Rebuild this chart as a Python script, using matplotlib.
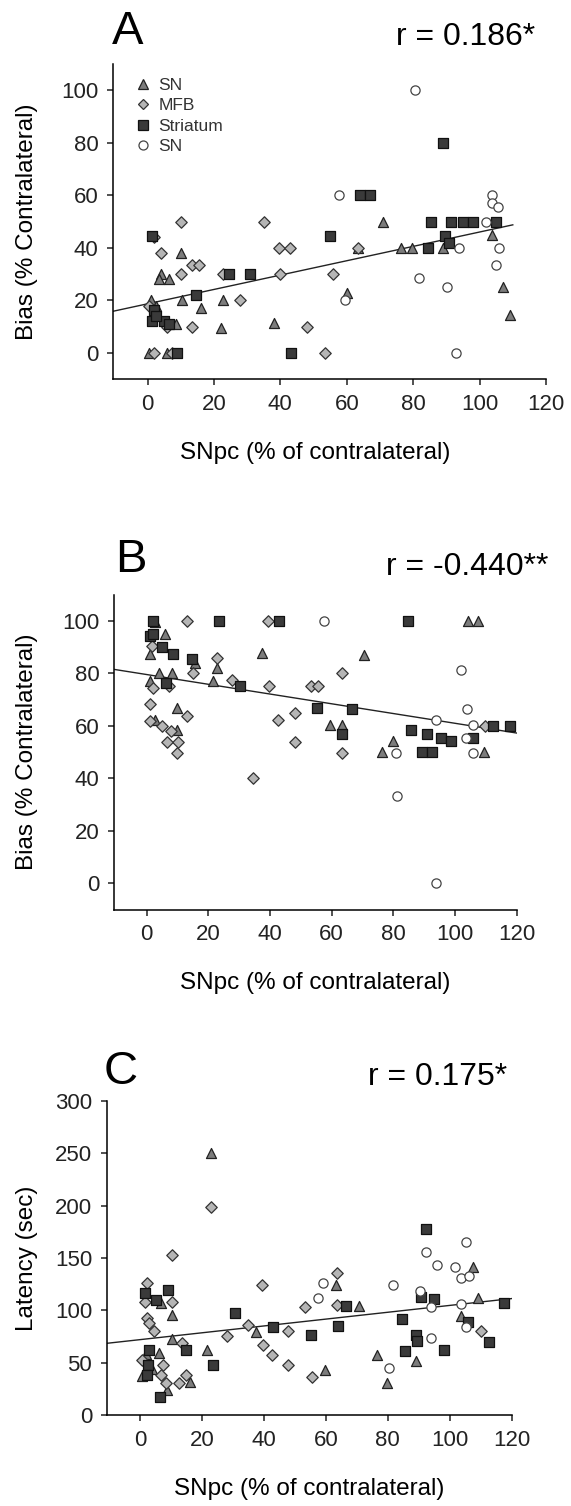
"""Three-panel scatter: turning bias / latency vs SNpc survival."""
import matplotlib
matplotlib.use("Agg")
import matplotlib.pyplot as plt
import numpy as np
from matplotlib.lines import Line2D

plt.rcParams["font.family"] = ["Liberation Sans", "DejaVu Sans"]

W, H = 571, 1506

# ---- panel A : Bias vs SNpc -------------------------------------------
a_sn_tri = [(0.5, 0), (6, 0), (1, 20), (2.5, 18), (4, 30), (3.5, 28), (6.5, 28),
            (10, 38), (10.5, 20), (16, 17), (22.7, 20), (22, 9.5), (38, 11.4),
            (8.5, 11), (70.8, 50), (60, 22.8), (63.5, 40), (76.3, 40), (79.7, 40),
            (89, 40), (103.6, 45), (107, 25), (109.3, 14.6)]
a_mfb = [(2, 0), (7.5, 0), (10, 50), (4, 38), (10, 30), (13.5, 33.5), (15.5, 33.5),
         (13.5, 10), (22.7, 30), (28, 20), (35, 50), (39.5, 40), (43, 40), (40, 30),
         (48, 10), (53.5, 0), (56, 30), (63.5, 40), (2, 44), (0.5, 18), (6, 10)]
a_str = [(1.5, 44.3), (2, 16.5), (1.5, 12), (5, 12), (6.5, 11), (9, 0), (24.5, 30),
         (31, 30), (14.7, 22), (43.3, 0), (55, 44.3), (64, 60), (67, 60), (88.9, 80),
         (85.4, 50), (91.5, 50), (95, 50), (98, 50), (105, 50), (89.6, 44.3),
         (90.8, 42), (84.6, 40), (2.5, 14)]
a_sn_open = [(80.7, 100), (57.7, 60), (81.7, 28.5), (59.5, 20), (90.3, 25),
             (93.8, 40), (92.8, 0), (102, 50), (103.6, 60), (103.8, 57),
             (105.5, 55.7), (105.8, 40), (105, 33.5)]
a_fit = (18.7, 0.273, 110)          # intercept, slope, x end

# ---- panel B : Bias vs SNpc -------------------------------------------
b_sn_tri = [(2.7, 99.6), (5.9, 95), (1.1, 87.3), (4.1, 80.3), (8.1, 80.3), (1.1, 77),
            (15.7, 84), (22.7, 82), (21.6, 77.3), (37.3, 87.9), (9.8, 66.9),
            (2.7, 62.4), (9.8, 58.6), (59.3, 60.3), (63.2, 60.3), (70.6, 87),
            (80, 54.1), (76.2, 50), (104.3, 100), (107.5, 100), (109.4, 50)]
b_mfb = [(13, 100), (39.2, 100), (1.6, 90.4), (22.7, 86), (15.1, 80), (27.6, 77.7),
         (2.2, 74.5), (7.4, 75.2), (39.8, 75.2), (53.2, 75.2), (55.7, 75.2),
         (1.1, 68.2), (13, 63.7), (1.1, 61.8), (4.9, 59.9), (8, 58), (10.3, 54),
         (6.5, 54), (9.8, 49.7), (34.6, 40), (42.7, 62.4), (48.1, 64.9),
         (48.1, 53.8), (63.2, 80), (63.3, 49.7), (109.7, 59.9)]
b_str = [(2.2, 100), (1.1, 94.3), (2.2, 95), (4.9, 90), (8.7, 87.6), (14.6, 85.4),
         (6.3, 76.4), (30.3, 75.2), (23.6, 100), (42.9, 100), (55.1, 66.9),
         (63.5, 57), (66.5, 66.6), (84.8, 100), (85.7, 58.6), (90.8, 57),
         (95.3, 55.4), (98.6, 54.4), (89.2, 50), (92.4, 50), (105.7, 55.4),
         (112.4, 60), (117.8, 60)]
b_sn_open = [(57.5, 100), (101.9, 81.3), (104, 66.6), (93.8, 62.4), (105.9, 60.3),
             (103.5, 55.4), (80.8, 49.7), (105.7, 49.7), (81.3, 33.1), (93.8, 0)]
b_fit = (79.6, -0.186, 120)

# ---- panel C : Latency vs SNpc ----------------------------------------
c_sn_tri = [(22.9, 250), (10.2, 96), (6.8, 107), (10.2, 73), (6.1, 59), (21.5, 62),
            (37.3, 79), (59.6, 43), (0.5, 37), (16.1, 32), (8.8, 24), (63.3, 124.3),
            (70.8, 104.2), (76.4, 57.4), (79.8, 30.3), (89.1, 51.6), (107.4, 141),
            (109.2, 111.5), (103.6, 94.6), (2, 58), (4, 44)]
c_mfb = [(22.9, 199), (10.2, 153), (2.4, 126), (1.6, 108.3), (10.2, 108.3),
         (39.3, 124.3), (2.2, 92.4), (4.5, 80.3), (35, 86), (28, 75.5), (47.9, 80.3),
         (39.6, 67), (42.7, 57.4), (47.9, 47.8), (53.4, 103.6), (55.5, 36.6),
         (13.5, 68.5), (0.5, 52.6), (7.3, 47.8), (6.8, 38.2), (8.4, 30.3),
         (12.7, 30.3), (14.8, 38.2), (63.5, 136), (63.6, 105.2), (110.1, 80.3),
         (3, 88)]
c_str = [(1.6, 116.3), (5.2, 110), (9, 119.5), (30.7, 97.8), (43, 84.4), (55.2, 76.5),
         (14.8, 62.1), (3, 62.1), (2.7, 47.8), (2.2, 38.2), (23.7, 47.8), (6.5, 17.5),
         (63.8, 85.1), (66.5, 104.2), (92.2, 177.8), (84.7, 91.5), (90.7, 113.1),
         (95, 110.6), (89, 76.5), (89.5, 71), (85.5, 61.2), (98.1, 62.1),
         (105.8, 89.2), (112.8, 70.1), (117.6, 106.8)]
c_sn_open = [(59.2, 126), (57.5, 111.5), (81.6, 124), (92.3, 156), (95.8, 143.4),
             (105.1, 165), (101.7, 141.8), (103.6, 130.7), (106.3, 132.9),
             (93.9, 103.5), (103.6, 106), (105.1, 84.4), (93.8, 73.3), (80.5, 44.6),
             (90.4, 118)]
c_fit = (72.0, 0.327, 120)

legend_labels = ["SN", "MFB", "Striatum", "SN"]
x_ticks = [0, 20, 40, 60, 80, 100, 120]
bias_ticks = [0, 20, 40, 60, 80, 100]
latency_ticks = [0, 50, 100, 150, 200, 250, 300]

STYLES = [
    dict(marker="^", s=52, facecolor="#7c7c7c", edgecolor="#222222"),
    dict(marker="D", s=34, facecolor="#b5b5b5", edgecolor="#333333"),
    dict(marker="s", s=42, facecolor="#3a3a3a", edgecolor="#111111"),
    dict(marker="o", s=44, facecolor="white", edgecolor="#444444"),
]

# axes boxes in pixels: left, right, top, bottom
BOX_A = (113.3, 546, 63.7, 379.3)
BOX_B = (114.2, 516.8, 594.8, 909.5)
BOX_C = (106.6, 511.7, 1101, 1415)


def px_rect(box):
    left, right, top, bottom = box
    return [left / W, 1 - bottom / H, (right - left) / W, (bottom - top) / H]


def panel(fig, box, groups, fit, xlim, ylim, yticks, ylabel, xlab_x=0.5):
    ax = fig.add_axes(px_rect(box))
    for pts, st in zip(groups, STYLES):
        xy = np.array(pts)
        ax.scatter(xy[:, 0], xy[:, 1], linewidths=0.9, zorder=3, clip_on=False, **st)
    b0, b1, xend = fit
    xs = np.array([xlim[0], xend])
    ax.plot(xs, b0 + b1 * xs, color="#222222", lw=1.0, zorder=2)
    ax.set_xlim(*xlim)
    ax.set_ylim(*ylim)
    ax.set_xticks(x_ticks)
    ax.set_yticks(yticks)
    for s in ("top", "right"):
        ax.spines[s].set_visible(False)
    for s in ("left", "bottom"):
        ax.spines[s].set_linewidth(1.1)
    ax.tick_params(direction="out", length=4.5, width=1.1, labelsize=16, pad=6,
                   colors="#222222")
    ax.set_xlabel("SNpc (% of contralateral)", fontsize=17.5)
    ax.set_ylabel(ylabel, fontsize=17.5)
    left, right, top, bottom = box
    ax.yaxis.set_label_coords((38 - left) / (right - left), 0.5)
    ax.xaxis.set_label_coords(xlab_x, -63 / (bottom - top))
    return ax


fig = plt.figure(figsize=(W / 100, H / 100), dpi=100)

ax_a = panel(fig, BOX_A, [a_sn_tri, a_mfb, a_str, a_sn_open], a_fit,
             (-10.3, 120), (-10, 110), bias_ticks, "Bias (% Contralateral)", 0.466)
ax_b = panel(fig, BOX_B, [b_sn_tri, b_mfb, b_str, b_sn_open], b_fit,
             (-10.5, 120), (-10, 110), bias_ticks, "Bias (% Contralateral)")
ax_c = panel(fig, BOX_C, [c_sn_tri, c_mfb, c_str, c_sn_open], c_fit,
             (-10.8, 120), (0, 300), latency_ticks, "Latency (sec)")

# legend (panel A only)
handles = [Line2D([], [], linestyle="none", marker=st["marker"],
                  markersize=6.5 if st["marker"] != "D" else 5.5,
                  markerfacecolor=st["facecolor"], markeredgecolor=st["edgecolor"],
                  markeredgewidth=0.9) for st in STYLES]
ax_a.legend(handles, legend_labels, loc="upper left", bbox_to_anchor=(0.048, 0.955),
            frameon=False, fontsize=12.5, handlelength=1.0, handletextpad=0.4,
            labelspacing=0.3, borderpad=0, borderaxespad=0, labelcolor="#333333")


def ftext(x, y, s, size, ha="center"):
    fig.text(x / W, 1 - y / H, s, fontsize=size, ha=ha, va="center")


ftext(128, 32, "A", 34)
ftext(131, 560, "B", 34)
ftext(121, 1072, "C", 34)
ftext(466, 37, "r = 0.186*", 23)
ftext(467, 567, "r = -0.440**", 23)
ftext(438, 1077, "r = 0.175*", 23)

fig.savefig("out.png", dpi=100)
